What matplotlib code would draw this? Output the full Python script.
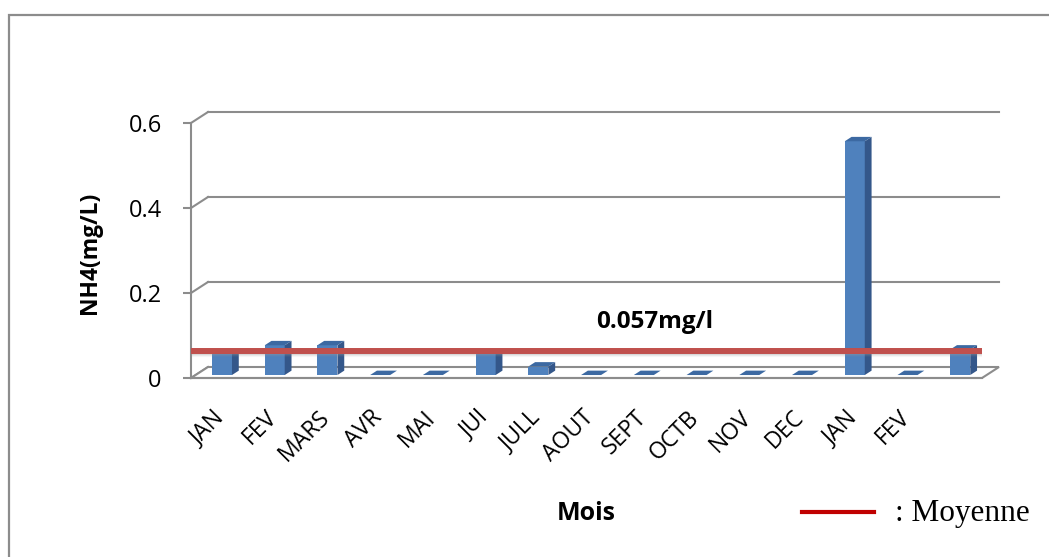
import matplotlib
matplotlib.use("Agg")
import matplotlib.pyplot as plt
from matplotlib.patches import Polygon, Rectangle
from matplotlib.lines import Line2D
from matplotlib.transforms import ScaledTranslation

# NH4 monthly values (mg/L)
mois = ['JAN', 'FEV', 'MARS', 'AVR', 'MAI', 'JUI', 'JULL', 'AOUT',
        'SEPT', 'OCTB', 'NOV', 'DEC', 'JAN', 'FEV', '']
nh4 = [0.05, 0.07, 0.07, 0, 0, 0.05, 0.02, 0, 0, 0, 0, 0, 0.55, 0, 0.06]
moyenne = 0.057
y_ticks = [0, 0.2, 0.4, 0.6]
y_labels = ['0', '0.2', '0.4', '0.6']

plt.rcParams['font.family'] = ['Open Sans', 'DejaVu Sans']

W, H = 1049, 557
fig = plt.figure(figsize=(W / 100, H / 100), dpi=100)
ax = fig.add_axes([191 / W, (H - 378) / H, (982 - 191) / W, 255 / H])
ax.set_xlim(-0.5, 14.5)
ax.set_ylim(0, 0.6)

grey = '#8c8c8c'
# fake 3D depth, expressed in data units
DX = 17 * 15 / 791
DY = 11 * 0.6 / 255

# back wall gridlines + left wall diagonals
for y in y_ticks:
    if y > 0:
        ax.plot([-0.5 + DX, 14.5 + DX], [y + DY, y + DY], color=grey, lw=1.5,
                clip_on=False, zorder=1)
    ax.plot([-0.5, -0.5 + DX], [y, y + DY], color=grey, lw=1.5,
            clip_on=False, zorder=1)

# floor
floor = Polygon([(-0.5, 0), (14.5, 0), (14.5 + DX, DY), (-0.5 + DX, DY)],
                closed=True, facecolor='white', edgecolor=grey, lw=1.5,
                clip_on=False, zorder=1)
ax.add_patch(floor)

# bars: front face, side face, top face
f0 = 0.27   # depth of front face
fb = 0.40   # bar depth
bw = 0.38
xs = [i + f0 * DX for i in range(len(nh4))]
ax.bar(xs, nh4, width=bw, bottom=f0 * DY, color='#4f81bd', zorder=3)
for x, v in zip(xs, nh4):
    x0 = x - bw / 2
    y0 = f0 * DY
    side = Polygon([(x0 + bw, y0), (x0 + bw + fb * DX, y0 + fb * DY),
                    (x0 + bw + fb * DX, y0 + v + fb * DY), (x0 + bw, y0 + v)],
                   closed=True, facecolor='#34578a', edgecolor='none', zorder=3)
    top = Polygon([(x0, y0 + v), (x0 + bw, y0 + v),
                   (x0 + bw + fb * DX, y0 + v + fb * DY),
                   (x0 + fb * DX, y0 + v + fb * DY)],
                  closed=True, facecolor='#3c69a2', edgecolor='none', zorder=3)
    ax.add_patch(side)
    ax.add_patch(top)

# average line with a soft shadow
ym = moyenne + f0 * DY
for k, a in zip([0.005, 0.008, 0.011], [0.22, 0.13, 0.07]):
    ax.plot([-0.5, 14.5], [ym - k, ym - k], color='#999999', lw=3, alpha=a,
            clip_on=False, zorder=4, solid_capstyle='butt')
ax.plot([-0.5, 14.5], [ym, ym], color='#c0504d', lw=4.3, clip_on=False,
        zorder=5, solid_capstyle='butt')
ax.text(8.3, 0.132, '0.057mg/l', ha='center', va='center', fontsize=17.5,
        fontweight='bold', zorder=6)

# axes styling
for s in ['top', 'right']:
    ax.spines[s].set_visible(False)
ax.spines['left'].set_color(grey)
ax.spines['left'].set_linewidth(1.5)
ax.spines['bottom'].set_color(grey)
ax.spines['bottom'].set_linewidth(1.5)
ax.set_yticks(y_ticks)
ax.set_yticklabels(y_labels)
ax.tick_params(axis='y', length=6, width=1.5, color=grey, pad=15, labelsize=17)
ax.set_xticks(range(len(mois)))
ax.set_xticklabels(mois, rotation=45, ha='right', rotation_mode='anchor')
ax.tick_params(axis='x', length=0, pad=20, labelsize=16.5)
shift = ScaledTranslation(-5 / 100, 0, fig.dpi_scale_trans)
for lab in ax.get_xticklabels():
    lab.set_transform(lab.get_transform() + shift)
ax.patch.set_visible(False)

fig.text(90 / W, 1 - 253 / H, 'NH4(mg/L)', rotation=90, ha='center',
         va='center', fontsize=16.5, fontweight='bold')
fig.text(586 / W, 1 - 513 / H, 'Mois', ha='center', va='center',
         fontsize=18, fontweight='bold')

# legend for the average line
fig.add_artist(Line2D([802 / W, 874 / W], [1 - 512 / H, 1 - 512 / H],
                      color='#c00000', lw=3))
fig.text(895 / W, 1 - 513 / H, ': Moyenne', ha='left', va='center',
         fontsize=22.5, family='Liberation Serif')

# chart frame
fig.add_artist(Rectangle((9 / W, -0.1), 1.2, 1.1 - 15 / H,
                         transform=fig.transFigure, fill=False,
                         edgecolor=grey, lw=1.6, clip_on=False))

fig.savefig('out.png', dpi=100)
